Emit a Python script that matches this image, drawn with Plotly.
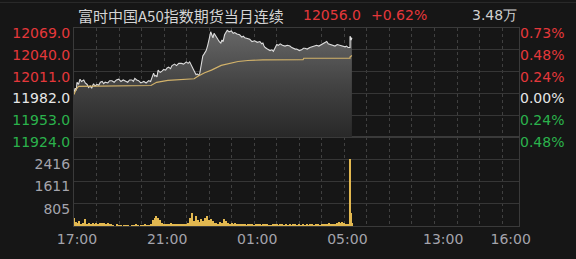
import plotly.graph_objects as go

# ---------------- data ----------------
TITLE = "富时中国A50指数期货当月连续"
LAST_PRICE = "12056.0"
CHANGE_PCT = "+0.62%"
VOLUME_TXT = "3.48万"
PREV_CLOSE = 11982.0

price_ticks = [11924.0, 11953.0, 11982.0, 12011.0, 12040.0, 12069.0]
pct_labels = ["0.48%", "0.24%", "0.00%", "0.24%", "0.48%", "0.73%"]
vol_ticks = [805, 1611, 2416]
VOL_MAX = 3221
x_labels = ["17:00", "21:00", "01:00", "05:00", "13:00", "16:00"]

price_times = ["17:00", "17:03", "17:06", "17:08", "17:12", "17:16", "17:20", "17:26", "17:30", "17:35",
               "17:39", "17:43", "17:47", "17:52", "17:56", "18:01", "18:06", "18:10", "18:15", "18:19",
               "18:23", "18:30", "18:35", "18:41", "18:47", "18:53", "18:59", "19:05", "19:11", "19:17",
               "19:23", "19:28", "19:34", "19:38", "19:42", "19:47", "19:52", "19:58", "20:06", "20:12",
               "20:19", "20:24", "20:28", "20:32", "20:35", "20:38", "20:41", "20:44", "20:47", "20:50",
               "20:55", "20:59", "21:04", "21:08", "21:12", "21:17", "21:21", "21:28", "21:33", "21:39",
               "21:46", "21:52", "21:59", "22:04", "22:08", "22:14", "22:18", "22:21", "22:25", "22:28",
               "22:32", "22:35", "22:39", "22:43", "22:47", "22:52", "22:56", "22:59", "23:02", "23:04",
               "23:07", "23:10", "23:13", "23:15", "23:19", "23:23", "23:27", "23:31", "23:34", "23:37",
               "23:41", "23:45", "23:48", "23:53", "23:59", "00:04", "00:08", "00:14", "00:21", "00:27",
               "00:31", "00:35", "00:41", "00:48", "00:54", "01:01", "01:08", "01:15", "01:20", "01:23",
               "01:26", "01:29", "01:35", "01:42", "01:47", "01:51", "01:55", "02:00", "02:04", "02:09",
               "02:15", "02:22", "02:28", "02:35", "02:40", "02:44", "02:49", "02:53", "03:00", "03:06",
               "03:11", "03:15", "03:21", "03:28", "03:34", "03:40", "03:46", "03:52", "04:00", "04:06",
               "04:13", "04:17", "04:22", "04:28", "04:35", "04:41", "04:48", "04:55", "05:02", "05:06",
               "05:10", "05:15", "09:00", "09:01", "09:02", "09:03", "09:05"]
price_values = [11983, 11989, 11986, 11997, 11994, 12001, 11998, 12000, 11996, 11994,
                11990, 11992, 11989, 11995, 11992, 11994, 11993, 11997, 11998, 11995,
                11997, 11996, 11999, 11999, 11997, 12000, 12001, 11998, 12000, 11999,
                11997, 12000, 12000, 11998, 12002, 12000, 11999, 11996, 11998, 11996,
                11999, 11998, 12004, 12009, 12005, 12006, 12004, 12013, 12011, 12010,
                12012, 12014, 12013, 12016, 12017, 12015, 12019, 12021, 12019, 12022,
                12022, 12021, 12024, 12022, 12024, 12019, 12014, 12011, 12007, 12008,
                12006, 12009, 12019, 12032, 12035, 12039, 12046, 12051, 12059, 12064,
                12058, 12056, 12062, 12060, 12057, 12054, 12051, 12049, 12053, 12051,
                12060, 12063, 12066, 12064, 12065, 12062, 12063, 12061, 12060, 12057,
                12058, 12056, 12055, 12054, 12051, 12052, 12050, 12051, 12048, 12049,
                12045, 12043, 12041, 12039, 12040, 12038, 12042, 12047, 12046, 12048,
                12046, 12045, 12046, 12045, 12043, 12042, 12041, 12041, 12039, 12040,
                12042, 12042, 12041, 12043, 12044, 12045, 12046, 12045, 12047, 12049,
                12051, 12048, 12047, 12046, 12045, 12047, 12046, 12045, 12044, 12045,
                12043, 12043, 12058, 12054, 12056, 12053, 12056]

avg_times = ["17:00", "17:05", "17:12", "20:25", "20:40", "21:10", "22:20", "22:30", "22:48", "23:06",
             "23:32", "23:50", "00:17", "00:43", "01:23", "03:10", "03:12", "05:15", "09:00", "09:05"]
avg_values = [11980.5, 11987.0, 11991.4, 11992.6, 11996.8, 11999.3, 12001.6, 12005.0, 12009.6, 12013.0,
              12019.3, 12021.5, 12024.5, 12025.8, 12026.7, 12026.9, 12028.8, 12029.0, 12030.5, 12032.5]

# night-session volume, one value per 5-minute slot starting 17:00
night_volume = [280, 150, 90, 170, 60, 120, 250, 80, 110, 60,
                100, 40, 120, 70, 100, 90, 110, 60, 90, 40,
                50, 30, 0, 40, 20, 30, 0, 20, 30, 20,
                0, 30, 20, 40, 20, 0, 30, 20, 40, 20,
                30, 60, 200, 280, 350, 300, 200, 90, 60, 40,
                60, 50, 100, 40, 70, 50, 60, 40, 60, 80,
                60, 120, 300, 470, 180, 350, 200, 150, 250, 180,
                300, 350, 200, 250, 180, 120, 100, 80, 150, 120,
                250, 160, 120, 80, 100, 60, 120, 70, 60, 50,
                40, 70, 30, 50, 60, 40, 30, 60, 50, 40,
                30, 50, 40, 60, 30, 20, 50, 40, 70, 30,
                40, 60, 30, 40, 20, 50, 30, 40, 60, 30,
                50, 30, 40, 20, 60, 30, 50, 40, 30, 60,
                40, 30, 50, 70, 40, 60, 100, 60, 50, 80,
                90, 150, 110, 130, 100, 80, 60]
day_vol_times = ["09:00", "09:01", "09:02", "09:03", "09:04", "09:05"]
day_volume = [2440, 1150, 480, 260, 200, 120]

# ---------------- helpers ----------------
NIGHT_LEN = 735   # 17:00 -> 05:15
TOTAL_LEN = 1185  # + 09:00 -> 16:30


def t_index(t):
    h, m = map(int, t.split(":"))
    if h >= 17:
        return (h - 17) * 60 + m
    if h <= 5:
        return (h + 7) * 60 + m
    return NIGHT_LEN + (h - 9) * 60 + m


RED = "#e5383b"
GREEN = "#2bb24c"
WHITE = "#e6e6e6"
GRAY = "#a4a4ac"
BG = "#161616"
GRID = "#363636"
BORDER = "#3a3a3a"


def pcolor(v):
    if v > PREV_CLOSE:
        return RED
    if v < PREV_CLOSE:
        return GREEN
    return WHITE


px = [t_index(t) for t in price_times]
ax = [t_index(t) for t in avg_times]
vx = [i * 5 for i in range(len(night_volume))] + [t_index(t) for t in day_vol_times]
vy = night_volume + day_volume
vw = [3.8] * len(night_volume) + [1.6] * len(day_volume)

NUMFONT = "DejaVu Sans"
FS = 14
SHIFT = 5

fig = go.Figure()
fig.add_trace(go.Scatter(
    x=px, y=price_values, xaxis="x2", yaxis="y2", mode="lines",
    line=dict(color="#dcdcdc", width=1.1),
    fill="tozeroy",
    fillgradient=dict(type="vertical", start=price_ticks[0], stop=price_ticks[-1],
                      colorscale=[[0, "#262626"], [0.5, "#434343"], [1, "#686868"]]),
    hoverinfo="skip", showlegend=False))
fig.add_trace(go.Scatter(
    x=ax, y=avg_values, xaxis="x2", yaxis="y2", mode="lines",
    line=dict(color="#d2b26a", width=1.2), hoverinfo="skip", showlegend=False))
fig.add_trace(go.Scatter(
    x=[px[0]], y=[price_values[0]], xaxis="x2", yaxis="y3", mode="markers",
    marker=dict(opacity=0), hoverinfo="skip", showlegend=False))
fig.add_trace(go.Bar(
    x=vx, y=vy, width=vw, xaxis="x", yaxis="y",
    marker=dict(color="#e2b850", line=dict(width=0)), hoverinfo="skip", showlegend=False))

minor_grid = dict(tick0=0, dtick=60, showgrid=True, gridcolor="#404040", griddash="dot", gridwidth=1, ticks="")
split = 92 / 205

fig.update_layout(
    width=576, height=259,
    margin=dict(l=74, r=57, t=28, b=26),
    paper_bgcolor=BG, plot_bgcolor=BG,
    bargap=0,
    xaxis=dict(domain=[0, 1], range=[0, TOTAL_LEN], anchor="y",
               tickvals=[t_index(t) for t in x_labels], ticktext=x_labels,
               tickfont=dict(family=NUMFONT, size=FS, color=GRAY), ticklabelshift=3,
               showgrid=False, minor=minor_grid, zeroline=False,
               showline=True, linecolor=BORDER, mirror=True, ticks=""),
    xaxis2=dict(domain=[0, 1], matches="x", anchor="y2", showticklabels=False,
                showgrid=False, minor=minor_grid, zeroline=False,
                showline=True, linecolor=BORDER, mirror=True, ticks=""),
    yaxis=dict(domain=[0, split], range=[0, VOL_MAX], tickvals=vol_ticks,
               ticktext=[str(v) for v in vol_ticks],
               tickfont=dict(family=NUMFONT, size=FS, color=GRAY), ticklabelshift=SHIFT,
               showgrid=True, gridcolor=GRID, zeroline=False,
               showline=True, linecolor=BORDER, mirror=True, ticks=""),
    yaxis2=dict(domain=[split, 1], range=[price_ticks[0], price_ticks[-1]], anchor="x2",
                tickvals=price_ticks,
                ticktext=[f"<span style='color:{pcolor(v)}'>{v:.1f}</span>" for v in price_ticks],
                tickfont=dict(family=NUMFONT, size=FS, color=WHITE), ticklabelshift=SHIFT,
                showgrid=True, gridcolor=GRID, zeroline=False,
                showline=True, linecolor=BORDER, mirror=True, ticks=""),
    yaxis3=dict(overlaying="y2", side="right", anchor="x2",
                range=[price_ticks[0], price_ticks[-1]], tickvals=price_ticks,
                ticktext=[f"<span style='color:{pcolor(v)}'>{s}</span>" for v, s in zip(price_ticks, pct_labels)],
                tickfont=dict(family=NUMFONT, size=FS, color=WHITE), ticklabelshift=SHIFT,
                showgrid=False, zeroline=False, showline=False, ticks=""),
)


def px_to_paper_x(p):
    return (p - 74) / 445


def px_to_paper_y(p):
    return 1 + (28 - p) / 205


head_y = px_to_paper_y(15)
fig.add_annotation(text=TITLE, xref="paper", yref="paper", x=px_to_paper_x(76), y=head_y,
                   xanchor="left", yanchor="middle", showarrow=False,
                   font=dict(family="Noto Sans CJK SC", size=15, color="#d4d4d4"))
fig.add_annotation(text=LAST_PRICE, xref="paper", yref="paper", x=px_to_paper_x(301), y=head_y,
                   xanchor="left", yanchor="middle", showarrow=False,
                   font=dict(family=NUMFONT, size=FS, color=RED))
fig.add_annotation(text=CHANGE_PCT, xref="paper", yref="paper", x=px_to_paper_x(369), y=head_y,
                   xanchor="left", yanchor="middle", showarrow=False,
                   font=dict(family=NUMFONT, size=FS, color=RED))
fig.add_annotation(text=VOLUME_TXT, xref="paper", yref="paper", x=px_to_paper_x(470), y=head_y,
                   xanchor="left", yanchor="middle", showarrow=False,
                   font=dict(family=NUMFONT, size=FS, color="#d0d0d0"))
fig.add_shape(type="line", xref="paper", yref="paper", x0=-74 / 445, x1=502 / 445,
              y0=px_to_paper_y(1.5), y1=px_to_paper_y(1.5), line=dict(color="#2c2c2c", width=1))

fig.write_html("out.html")
